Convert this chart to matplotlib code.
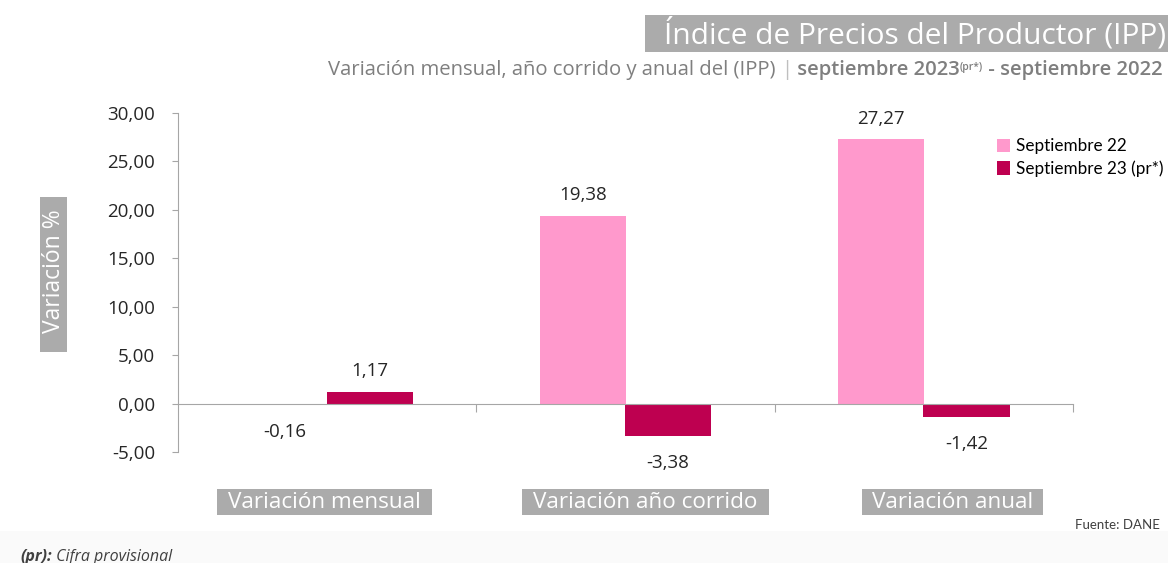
import matplotlib.pyplot as plt
from matplotlib.patches import Patch, Rectangle

# data
categories = ['Variación mensual', 'Variación año corrido', 'Variación anual']
sep22 = [-0.16, 19.38, 27.27]
sep23 = [1.17, -3.38, -1.42]
series_names = ['Septiembre 22', 'Septiembre 23 (pr*)']
yticks = [-5, 0, 5, 10, 15, 20, 25, 30]

PINK = '#FF99CC'
WINE = '#BE0050'
BOXGRAY = '#ABABAB'
AXGRAY = '#A6A6A6'
TXT = '#262626'
SUBGRAY = '#7F7F7F'

plt.rcParams['font.family'] = ['Open Sans', 'DejaVu Sans']

W, H = 1168, 563
fig = plt.figure(figsize=(W / 100, H / 100), dpi=100)
fig.patch.set_facecolor('white')


def px_box(x0, y0, x1, y1, color):
    """Gray box given in pixel coords (y from top)."""
    fig.patches.append(Rectangle((x0 / W, 1 - y1 / H), (x1 - x0) / W, (y1 - y0) / H,
                                 transform=fig.transFigure, facecolor=color,
                                 edgecolor='none', zorder=0))


# faint bottom band
px_box(0, 531, W, H, '#FAFAFA')

ax = fig.add_axes([178 / W, 1 - 452 / H, (1073 - 178) / W, (452 - 113) / H])
ax.set_facecolor('none')

x = list(range(len(categories)))
bw = 0.29
off = 0.143
ax.bar([i - off for i in x], sep22, width=bw, color=PINK, zorder=2)
ax.bar([i + off for i in x], sep23, width=bw, color=WINE, zorder=2)

ax.set_xlim(-0.5, len(categories) - 0.5)
ax.set_ylim(-5, 30)


def fmt(v):
    return ('%.2f' % v).replace('.', ',')


# value labels
for xs, vals in (([i - off for i in x], sep22), ([i + off for i in x], sep23)):
    for xi, v in zip(xs, vals):
        dy = 15 if v >= 0 else -19
        ax.annotate(fmt(v), (xi, v), xytext=(0, dy), textcoords='offset points',
                    ha='center', va='center', fontsize=13.5, color=TXT)

# axes styling
for s in ('top', 'right'):
    ax.spines[s].set_visible(False)
ax.spines['left'].set_color(AXGRAY)
ax.spines['bottom'].set_position(('data', 0))
ax.spines['bottom'].set_color(AXGRAY)
ax.set_yticks(yticks)
ax.set_yticklabels([fmt(v) for v in yticks])
ax.tick_params(axis='y', colors=AXGRAY, labelcolor=TXT, labelsize=13.5, length=4.5, pad=12)
ax.set_xticks([i + 0.5 for i in x])
ax.set_xticklabels([])
ax.tick_params(axis='x', colors=AXGRAY, length=6, direction='out')

# category labels in gray boxes
cat_boxes = [(217, 432), (522, 769), (862, 1043)]
for (x0, x1), c in zip(cat_boxes, categories):
    px_box(x0, 489, x1, 515, BOXGRAY)
    fig.text((x0 + x1) / 2 / W, 1 - 502 / H, c, ha='center', va='center',
             fontsize=16.2, color='white')

# y label
px_box(40, 197, 67, 352, BOXGRAY)
fig.text(54 / W, 1 - 271 / H, 'Variación %', rotation=90, ha='center', va='center',
         fontsize=16.5, color='white')

# legend
handles = [Patch(facecolor=PINK), Patch(facecolor=WINE)]
fig.legend(handles, series_names, loc='upper left', bbox_to_anchor=(982 / W, 1 - 123 / H),
           frameon=False, handlelength=0.75, handleheight=0.85, handletextpad=0.35,
           labelspacing=0.35, prop={'family': 'Lato', 'size': 12.3})

# title
px_box(645, 15, W, 52, BOXGRAY)
fig.text(1166 / W, 1 - 34 / H, 'Índice de Precios del Productor (IPP)', ha='right',
         va='center', fontsize=21.5, color='white')

# subtitle built from runs
fig.canvas.draw()
renderer = fig.canvas.get_renderer()
runs = [
    ('Variación mensual, año corrido y anual del (IPP) ', 'normal', 14.6, 0, SUBGRAY),
    ('|', 'normal', 14.6, 0, '#BFBFBF'),
    (' septiembre 2023', 'semibold', 14.6, 0, SUBGRAY),
    ('(pr*)', 'semibold', 7.5, 5, SUBGRAY),
    (' - septiembre 2022', 'semibold', 14.6, 0, SUBGRAY),
]
xpos = 328
ybase = 1 - 75 / H
for txt, weight, size, rise, col in runs:
    t = fig.text(xpos / W, ybase + rise / H, txt, ha='left', va='baseline',
                 fontsize=size, fontweight=weight, color=col)
    xpos += t.get_window_extent(renderer).width

# footnotes
fig.text(1075 / W, 1 - 525 / H, 'Fuente: DANE', ha='left', va='center',
         fontsize=9.5, color='#404040', family='Lato')
t1 = fig.text(20 / W, 1 - 557 / H, '(pr):', ha='left', va='center', fontsize=11.5,
              fontweight='bold', style='italic', color='#404040')
fig.canvas.draw()
w1 = t1.get_window_extent(renderer).width
fig.text((20 + w1) / W, 1 - 557 / H, ' Cifra provisional', ha='left', va='center',
         fontsize=11.5, style='italic', color='#404040')

fig.savefig('out.png', dpi=100)
